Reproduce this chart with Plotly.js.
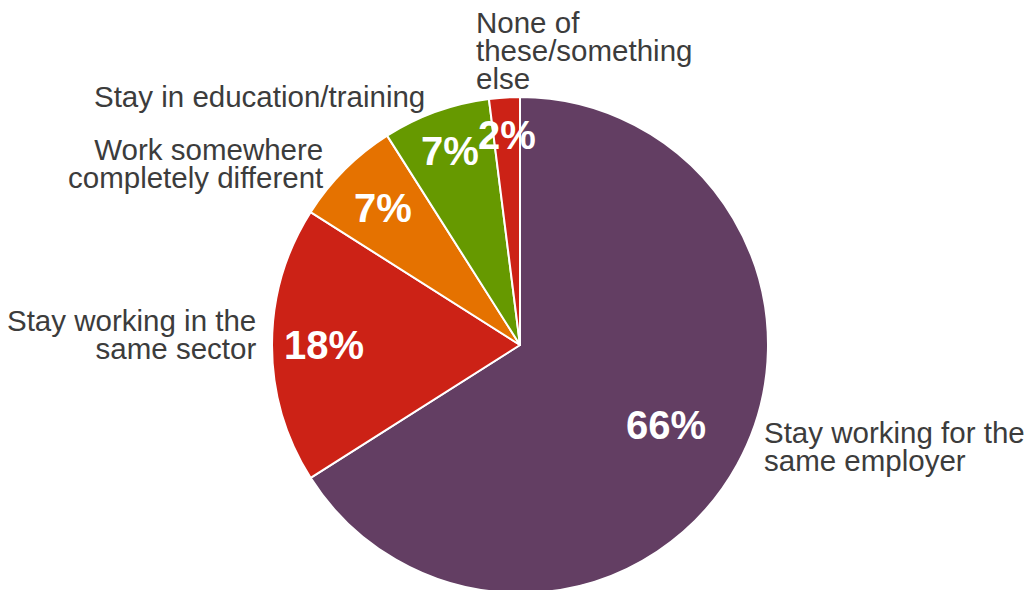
<!DOCTYPE html>
<html>
<head>
<meta charset="utf-8">
<script src="https://cdn.plot.ly/plotly-3.0.1.min.js"></script>
<style>
html,body{margin:0;padding:0;overflow:hidden;background:#fff;}
#chart{width:1027px;height:596px;}
</style>
</head>
<body>
<div id="chart"></div>
<script>
// Data
const categories = [
  "Stay working for the<br>same employer",
  "Stay working in the<br>same sector",
  "Work somewhere<br>completely different",
  "Stay in education/training",
  "None of<br>these/something<br>else"
];
const values = [66, 18, 7, 7, 2];
const percentLabels = ["66%", "18%", "7%", "7%", "2%"];
const colors = ["#633e63", "#cc2216", "#e57200", "#669900", "#cc2216"];

// Layout parameters (styles / positions, not data)
const W = 1027, H = 596;
const CX = 520, CY = 345, R = 248;
const pctRadius = [0.67, 0.79, 0.78, 0.83, 0.85];
const labelAnchor = ["left", "right", "right", "right", "left"];
const labelOffset = [[25, -18], [-14, -11], [-20, -6], [-9, -15], [-30, -47]];
const FS = 29.5;           // label font size
const lineStep = 28;       // reference line spacing (px)
const plotlyLineEm = 1.3;  // Plotly default line spacing
const labelFont = {family: "Liberation Sans, Arial, sans-serif", size: FS, color: "#3c3c3c"};
const pctFont = {family: "Liberation Sans, Arial, sans-serif", size: 40, color: "#ffffff", weight: "bold"};

const px2x = p => p / W;
const py2y = p => (H - p) / H;

const total = values.reduce((a, b) => a + b, 0);
const annotations = [];
let cum = 0;
values.forEach((v, i) => {
  const mid = (cum + v / 2) / total * 2 * Math.PI;
  cum += v;
  const sx = Math.sin(mid), sy = -Math.cos(mid);
  // percentage
  const pr = R * pctRadius[i];
  annotations.push({
    x: px2x(CX + pr * sx), y: py2y(CY + pr * sy), xref: "paper", yref: "paper",
    text: "<b>" + percentLabels[i] + "</b>", showarrow: false,
    xanchor: "center", yanchor: "middle", font: pctFont
  });
  // category label (one text, line spacing tightened after render)
  const ex = CX + R * sx + labelOffset[i][0];
  const ey = CY + R * sy + labelOffset[i][1];
  const n = categories[i].split("<br>").length;
  const firstLine = ey - (n - 1) / 2 * lineStep;
  const boxMid = firstLine + (n - 1) * plotlyLineEm * FS / 2;
  annotations.push({
    x: px2x(ex), y: py2y(boxMid), xref: "paper", yref: "paper",
    text: categories[i], showarrow: false, xanchor: labelAnchor[i], yanchor: "middle",
    align: labelAnchor[i], font: labelFont, name: "catlabel"
  });
});

const trace = {
  type: "pie",
  values: values,
  labels: categories,
  sort: false,
  direction: "clockwise",
  rotation: 0,
  textinfo: "none",
  hoverinfo: "label+percent",
  marker: {colors: colors, line: {color: "#ffffff", width: 2}},
  domain: {x: [px2x(CX - R), px2x(CX + R)], y: [py2y(CY + R), py2y(CY - R)]},
  showlegend: false
};

Plotly.newPlot("chart", [trace], {
  width: W, height: H,
  margin: {l: 0, r: 0, t: 0, b: 0},
  paper_bgcolor: "#ffffff",
  showlegend: false,
  annotations: annotations
}, {displayModeBar: false, staticPlot: true}).then(() => {
  // tighten multi-line label spacing to match the reference leading
  const em = lineStep / FS;
  document.querySelectorAll("#chart .annotation-text tspan.line").forEach(t => {
    const dy = parseFloat(t.getAttribute("dy") || "0");
    const k = Math.round(dy / plotlyLineEm);
    if (k > 0) t.setAttribute("dy", (k * em) + "em");
  });
});
</script>
</body>
</html>
